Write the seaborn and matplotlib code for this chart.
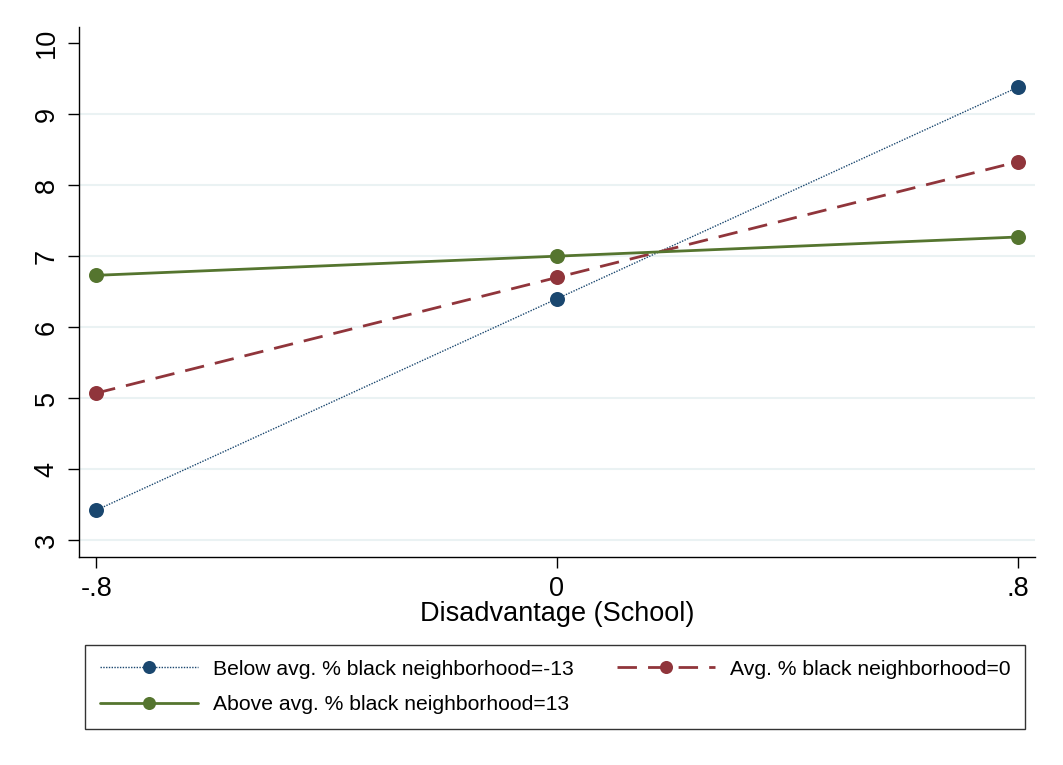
import matplotlib
matplotlib.use("Agg")
import matplotlib.pyplot as plt
import seaborn as sns
import pandas as pd

sns.set_theme(style="white")
plt.rcParams['font.family'] = ['Liberation Sans', 'DejaVu Sans']
plt.rcParams['text.color'] = 'black'
plt.rcParams['axes.labelcolor'] = 'black'

x_vals = [-0.8, 0.0, 0.8]
below = [3.42, 6.40, 9.38]
avg = [5.07, 6.70, 8.33]
above = [6.73, 7.00, 7.27]
labels = ["Below avg. % black neighborhood=-13",
          "Avg. % black neighborhood=0",
          "Above avg. % black neighborhood=13"]
x_ticks = [-0.8, 0.0, 0.8]
x_ticklabels = ["-.8", "0", ".8"]
y_ticks = [3, 4, 5, 6, 7, 8, 9, 10]

colors = ["#1a476f", "#90353b", "#55752f"]
styles = [(0, (1, 1)), (0, (7, 4)), "-"]
widths = [1.0, 2.0, 2.0]

fig = plt.figure(figsize=(10.63, 7.65), dpi=100)
fig.patch.set_facecolor("white")
ax = fig.add_axes([79/1063, 1-557/765, (1035-79)/1063, (557-27)/765])

handles = []
for vals, lab, c, ls, lw in zip([below, avg, above], labels, colors, styles, widths):
    df = pd.DataFrame({"x": x_vals, "y": vals})
    sns.lineplot(data=df, x="x", y="y", ax=ax, color=c, linestyle=ls, linewidth=lw,
                 marker="o", markersize=10.8, markeredgewidth=0, markerfacecolor=c,
                 label=lab, legend=False)
    handles.append(ax.lines[-1])

ax.set_xlim(-0.83, 0.83)
ax.set_ylim(2.76, 10.23)
ax.set_xticks(x_ticks)
ax.set_xticklabels(x_ticklabels, fontsize=19.5, color="black")
ax.set_yticks(y_ticks)
ax.set_yticklabels([str(v) for v in y_ticks], fontsize=19.5, rotation=90, va="center",
                   color="black")
for v in y_ticks[:-1]:
    ax.axhline(v, color="#eaf2f3", linewidth=1.5, zorder=0)
ax.set_xlabel("Disadvantage (School)", fontsize=19.5, labelpad=-1, color="black")
ax.set_ylabel("")
for s in ["top", "right"]:
    ax.spines[s].set_visible(False)
for s in ["left", "bottom"]:
    ax.spines[s].set_color("black")
    ax.spines[s].set_linewidth(1.0)
ax.tick_params(axis="both", which="both", direction="out", length=8, width=1,
               color="black", labelcolor="black", bottom=True, left=True, pad=6)
ax.set_facecolor("white")

order = [handles[0], handles[2], handles[1]]
order_labels = [labels[0], labels[2], labels[1]]
leg = fig.legend(order, order_labels, ncol=2, loc="center",
                 bbox_to_anchor=(85/1063, 1-730/765, (1025-85)/1063, (730-644)/765),
                 mode="expand", fontsize=15.2, frameon=True, fancybox=False,
                 edgecolor="black", handlelength=4.65, handletextpad=0.7,
                 labelspacing=0.8, borderaxespad=0, borderpad=0.7, markerscale=0.87)
leg.get_frame().set_linewidth(1.0)
for t in leg.get_texts():
    t.set_color("black")

fig.savefig("out.png", dpi=100, facecolor="white")
